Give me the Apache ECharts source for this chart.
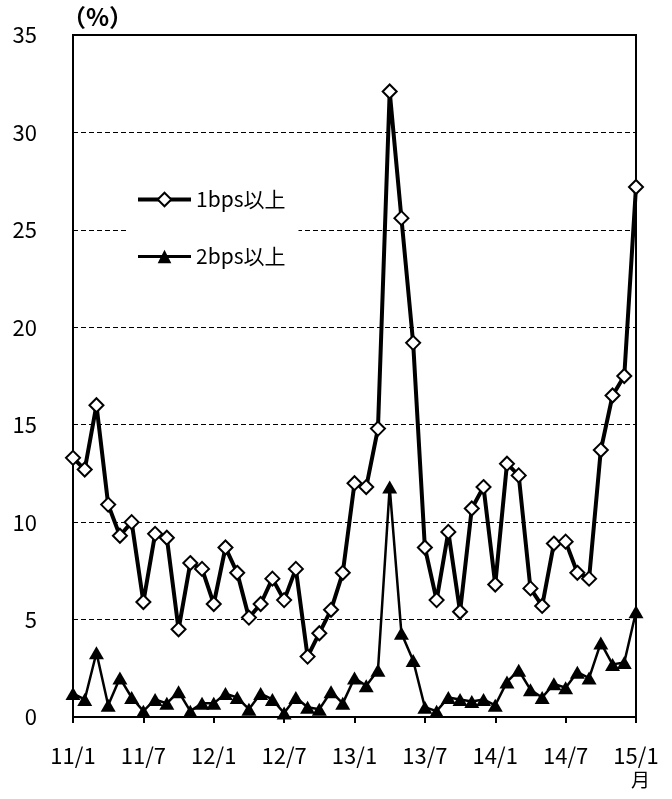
<!DOCTYPE html>
<html>
<head>
<meta charset="utf-8">
<script src="https://cdn.jsdelivr.net/npm/echarts@6/dist/echarts.min.js"></script>
<style>
html,body{margin:0;padding:0;background:#fff;}
#chart{width:672px;height:799px;}
</style>
</head>
<body>
<div id="chart"></div>
<script>
var months = [
  '11/1','11/2','11/3','11/4','11/5','11/6','11/7','11/8','11/9','11/10','11/11','11/12',
  '12/1','12/2','12/3','12/4','12/5','12/6','12/7','12/8','12/9','12/10','12/11','12/12',
  '13/1','13/2','13/3','13/4','13/5','13/6','13/7','13/8','13/9','13/10','13/11','13/12',
  '14/1','14/2','14/3','14/4','14/5','14/6','14/7','14/8','14/9','14/10','14/11','14/12',
  '15/1'
];
var seriesNames = ['1bps以上', '2bps以上'];
var over1bps = [13.3, 12.7, 16.0, 10.9, 9.3, 10.0, 5.9, 9.4, 9.2, 4.5, 7.9, 7.6,
  5.8, 8.7, 7.4, 5.1, 5.8, 7.1, 6.0, 7.6, 3.1, 4.3, 5.5, 7.4,
  12.0, 11.8, 14.8, 32.1, 25.6, 19.2, 8.7, 6.0, 9.5, 5.4, 10.7, 11.8,
  6.8, 13.0, 12.4, 6.6, 5.7, 8.9, 9.0, 7.4, 7.1, 13.7, 16.5, 17.5,
  27.2];
var over2bps = [1.2, 0.9, 3.3, 0.6, 2.0, 1.0, 0.3, 0.9, 0.7, 1.3, 0.3, 0.7,
  0.7, 1.2, 1.0, 0.4, 1.2, 0.9, 0.2, 1.0, 0.5, 0.4, 1.3, 0.7,
  2.0, 1.6, 2.4, 11.8, 4.3, 2.9, 0.5, 0.3, 1.0, 0.9, 0.8, 0.9,
  0.6, 1.8, 2.4, 1.4, 1.0, 1.7, 1.5, 2.3, 2.0, 3.8, 2.7, 2.8,
  5.4];
var yUnit = '（%）';
var xUnit = '月';

var FONT = "Noto Sans CJK JP";

var chart = echarts.init(document.getElementById('chart'), null, {renderer: 'canvas'});
chart.setOption({
  animation: false,
  backgroundColor: '#fff',
  textStyle: {fontFamily: FONT},
  grid: {left: 73, right: 36, top: 35, bottom: 82, show: true, borderColor: '#000', borderWidth: 2, backgroundColor: 'transparent'},
  legend: {
    orient: 'vertical',
    left: 127, top: 184,
    padding: [5, 13, 5, 9],
    backgroundColor: '#fff',
    itemWidth: 53, itemHeight: 17, itemGap: 36,
    textStyle: {fontSize: 21, color: '#000', fontFamily: FONT},
    data: [
      {name: seriesNames[0], lineStyle: {width: 4, color: '#000'}},
      {name: seriesNames[1], lineStyle: {width: 3, color: '#000'}}
    ]
  },
  xAxis: {
    type: 'category',
    data: months,
    boundaryGap: false,
    axisLine: {lineStyle: {color: '#000', width: 2}},
    axisTick: {show: true, interval: 5, length: 6, lineStyle: {color: '#000', width: 2}},
    axisLabel: {interval: 5, color: '#000', fontSize: 22, fontFamily: FONT, margin: 28},
    splitLine: {show: false}
  },
  yAxis: {
    type: 'value',
    min: 0, max: 35, interval: 5,
    axisLine: {show: true, lineStyle: {color: '#000', width: 2}},
    axisTick: {show: false},
    axisLabel: {color: '#000', fontSize: 22, fontFamily: FONT, margin: 36},
    splitLine: {show: true, lineStyle: {color: '#000', width: 1, type: [5, 3]}}
  },
  graphic: [{
    type: 'text',
    left: 62, top: 5,
    style: {text: yUnit, fontSize: 24, fontWeight: 'bold', fontFamily: FONT, fill: '#000'}
  }, {
    type: 'text',
    left: 631, top: 770,
    style: {text: xUnit, fontSize: 19, fontFamily: FONT, fill: '#000'}
  }],
  series: [
    {
      name: seriesNames[0],
      type: 'line',
      data: over1bps,
      symbol: 'diamond',
      symbolSize: 14,
      showAllSymbol: true,
      z: 3,
      lineStyle: {color: '#000', width: 4},
      itemStyle: {color: '#fff', borderColor: '#000', borderWidth: 2}
    },
    {
      name: seriesNames[1],
      type: 'line',
      data: over2bps,
      symbol: 'triangle',
      symbolSize: [15, 13],
      showAllSymbol: true,
      z: 2,
      lineStyle: {color: '#000', width: 2.5},
      itemStyle: {color: '#000', borderColor: '#000', borderWidth: 0}
    }
  ]
});
</script>
</body>
</html>
